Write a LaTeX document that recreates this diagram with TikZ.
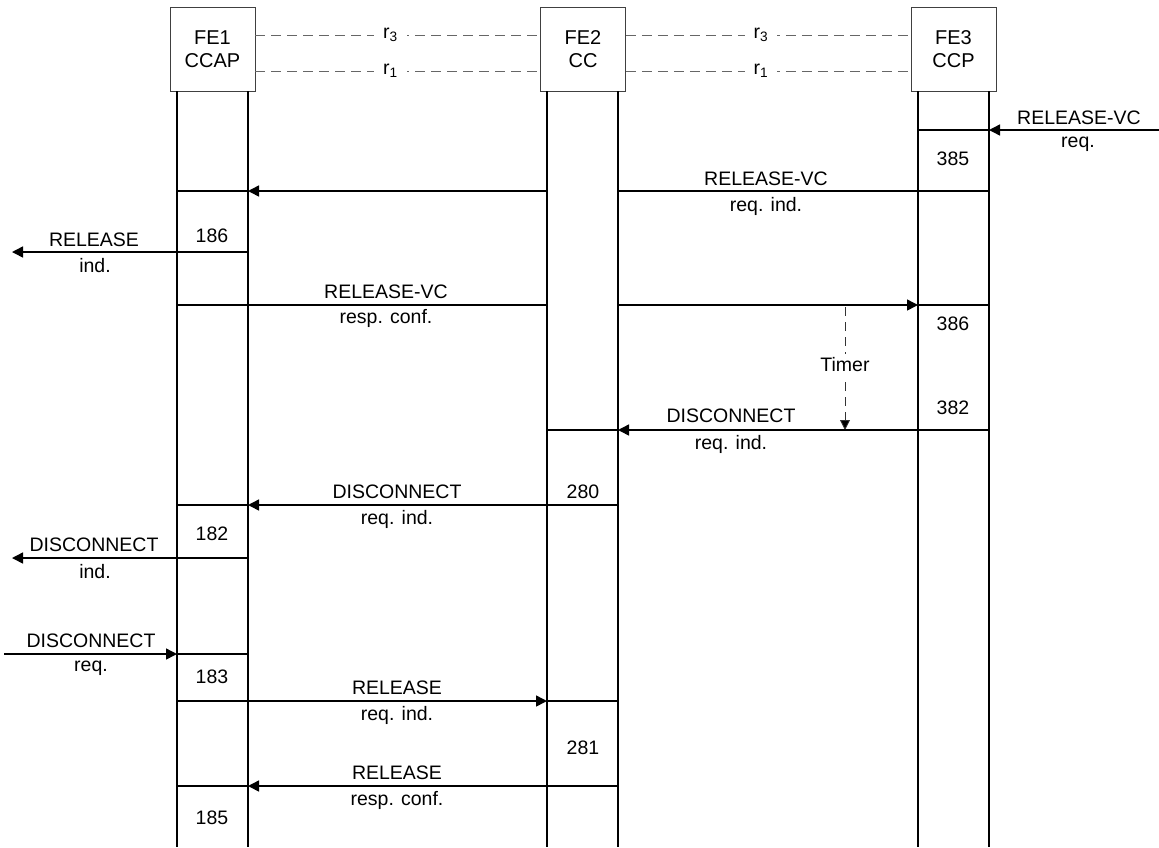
\documentclass[tikz,border=0pt]{standalone}
\usepackage{fontspec}
\setmainfont{Liberation Sans}
\usetikzlibrary{arrows.meta}
\begin{document}
\begin{tikzpicture}[x=1pt,y=-1pt,
  fe/.style={draw=black!75, line width=0.8pt, minimum width=85pt, minimum height=84pt, align=center, font=\fontsize{20}{23}\selectfont, inner sep=0pt},
  life/.style={line width=2pt},
  msg/.style={line width=1.5pt},
  arr/.style={msg, -{Triangle[length=11pt,width=11pt]}},
  lbl/.style={font=\fontsize{19.5}{22}\selectfont, inner sep=0pt},
  refl/.style={draw=black!60, dash pattern=on 10pt off 6pt, line width=0.9pt},
  timer/.style={draw=black!80, dash pattern=on 9pt off 6pt, line width=0.8pt, -{Triangle[length=10pt,width=10pt,fill=black]}}
]
\useasboundingbox (0,0) rectangle (1159,847);

% functional entities
\node[fe] (fe1) at (212.5,49) {FE1\\CCAP};
\node[fe] (fe2) at (583,49) {FE2\\CC};
\node[fe] (fe3) at (953.5,49) {FE3\\CCP};

% relationships
\draw[refl] ([yshift=14pt]fe1.east) -- node[lbl, pos=0.474, fill=white, inner xsep=9pt]{r\textsubscript{3}} ([yshift=14pt]fe2.west);
\draw[refl] ([yshift=-22pt]fe1.east) -- node[lbl, pos=0.474, fill=white, inner xsep=9pt]{r\textsubscript{1}} ([yshift=-22pt]fe2.west);
\draw[refl] ([yshift=14pt]fe2.east) -- node[lbl, pos=0.474, fill=white, inner xsep=9pt]{r\textsubscript{3}} ([yshift=14pt]fe3.west);
\draw[refl] ([yshift=-22pt]fe2.east) -- node[lbl, pos=0.474, fill=white, inner xsep=9pt]{r\textsubscript{1}} ([yshift=-22pt]fe3.west);

% lifelines
\coordinate (l1) at (177,847); \coordinate (r1) at (248,847);
\coordinate (l2) at (547,847); \coordinate (r2) at (618,847);
\coordinate (l3) at (918,847); \coordinate (r3) at (989,847);
\draw[life] (l1 |- fe1.south) -- (l1);
\draw[life] (r1 |- fe1.south) -- (r1);
\draw[life] (l2 |- fe2.south) -- (l2);
\draw[life] (r2 |- fe2.south) -- (r2);
\draw[life] (l3 |- fe3.south) -- (l3);
\draw[life] (r3 |- fe3.south) -- (r3);

% external ends
\coordinate (extR) at (1159,0);
\coordinate (extL) at (12,0);
\coordinate (extL0) at (4,0);

% 1: RELEASE-VC req.
\draw[arr] (extR |- 0,130) -- (r3 |- 0,130);
\draw[msg] (r3 |- 0,130) -- (l3 |- 0,130);
\node[lbl] (t1a) at (1079,118) {RELEASE-VC};
\node[lbl] (t1b) at (1078,144) {req.};
\node[lbl] (n385) at (953,159) {385};

% 2: RELEASE-VC req. ind.
\draw[msg] (r3 |- 0,191) -- (r2 |- 0,191);
\draw[arr] (l2 |- 0,191) -- (r1 |- 0,191);
\draw[msg] (r1 |- 0,191) -- (l1 |- 0,191);
\node[lbl] (t2a) at (766,179) {RELEASE-VC};
\node[lbl] (t2b) at (766,206) {req. ind.};
\node[lbl] (n186) at (212,236) {186};

% 3: RELEASE ind.
\draw[msg] (l1 |- 0,252) -- (r1 |- 0,252);
\draw[arr] (l1 |- 0,252) -- (extL |- 0,252);
\node[lbl] (t3a) at (94,240) {RELEASE};
\node[lbl] (t3b) at (95,266) {ind.};

% 4: RELEASE-VC resp. conf.
\draw[msg] (l1 |- 0,305) -- (l2 |- 0,305);
\draw[arr] (r2 |- 0,305) -- (l3 |- 0,305);
\draw[msg] (l3 |- 0,305) -- (r3 |- 0,305);
\node[lbl] (t4a) at (386,292) {RELEASE-VC};
\node[lbl] (t4b) at (386,318) {resp. conf.};
\node[lbl] (n386) at (953,324) {386};

% Timer
\coordinate (tm0) at (845,307);
\coordinate (tm1) at (845,430);
\draw[timer] (tm0) -- node[lbl, pos=0.47, fill=white, inner ysep=4pt]{Timer} (tm1);
\node[lbl] (n382) at (953,408) {382};

% 5: DISCONNECT req. ind. (FE3 -> FE2)
\draw[msg] (r3 |- 0,430) -- (l3 |- 0,430);
\draw[arr] (l3 |- 0,430) -- (r2 |- 0,430);
\draw[msg] (r2 |- 0,430) -- (l2 |- 0,430);
\node[lbl] (t5a) at (731,416) {DISCONNECT};
\node[lbl] (t5b) at (731,444) {req. ind.};
\node[lbl] (n280) at (583,492) {280};

% 6: DISCONNECT req. ind. (FE2 -> FE1)
\draw[msg] (r2 |- 0,505) -- (l2 |- 0,505);
\draw[arr] (l2 |- 0,505) -- (r1 |- 0,505);
\draw[msg] (r1 |- 0,505) -- (l1 |- 0,505);
\node[lbl] (t6a) at (397,492) {DISCONNECT};
\node[lbl] (t6b) at (397,519) {req. ind.};
\node[lbl] (n182) at (212,534) {182};

% 7: DISCONNECT ind.
\draw[msg] (r1 |- 0,558) -- (l1 |- 0,558);
\draw[arr] (l1 |- 0,558) -- (extL |- 0,558);
\node[lbl] (t7a) at (94,545) {DISCONNECT};
\node[lbl] (t7b) at (95,572) {ind.};

% 8: DISCONNECT req.
\draw[arr] (extL0 |- 0,654) -- (l1 |- 0,654);
\draw[msg] (l1 |- 0,654) -- (r1 |- 0,654);
\node[lbl] (t8a) at (91,641) {DISCONNECT};
\node[lbl] (t8b) at (91,668) {req.};
\node[lbl] (n183) at (212,677) {183};

% 9: RELEASE req. ind.
\draw[msg] (l1 |- 0,701) -- (r1 |- 0,701);
\draw[arr] (r1 |- 0,701) -- (l2 |- 0,701);
\draw[msg] (l2 |- 0,701) -- (r2 |- 0,701);
\node[lbl] (t9a) at (397,688) {RELEASE};
\node[lbl] (t9b) at (397,715) {req. ind.};
\node[lbl] (n281) at (583,748) {281};

% 10: RELEASE resp. conf.
\draw[msg] (r2 |- 0,786) -- (l2 |- 0,786);
\draw[arr] (l2 |- 0,786) -- (r1 |- 0,786);
\draw[msg] (r1 |- 0,786) -- (l1 |- 0,786);
\node[lbl] (t10a) at (397,773) {RELEASE};
\node[lbl] (t10b) at (397,800) {resp. conf.};
\node[lbl] (n185) at (212,818) {185};
\end{tikzpicture}
\end{document}
